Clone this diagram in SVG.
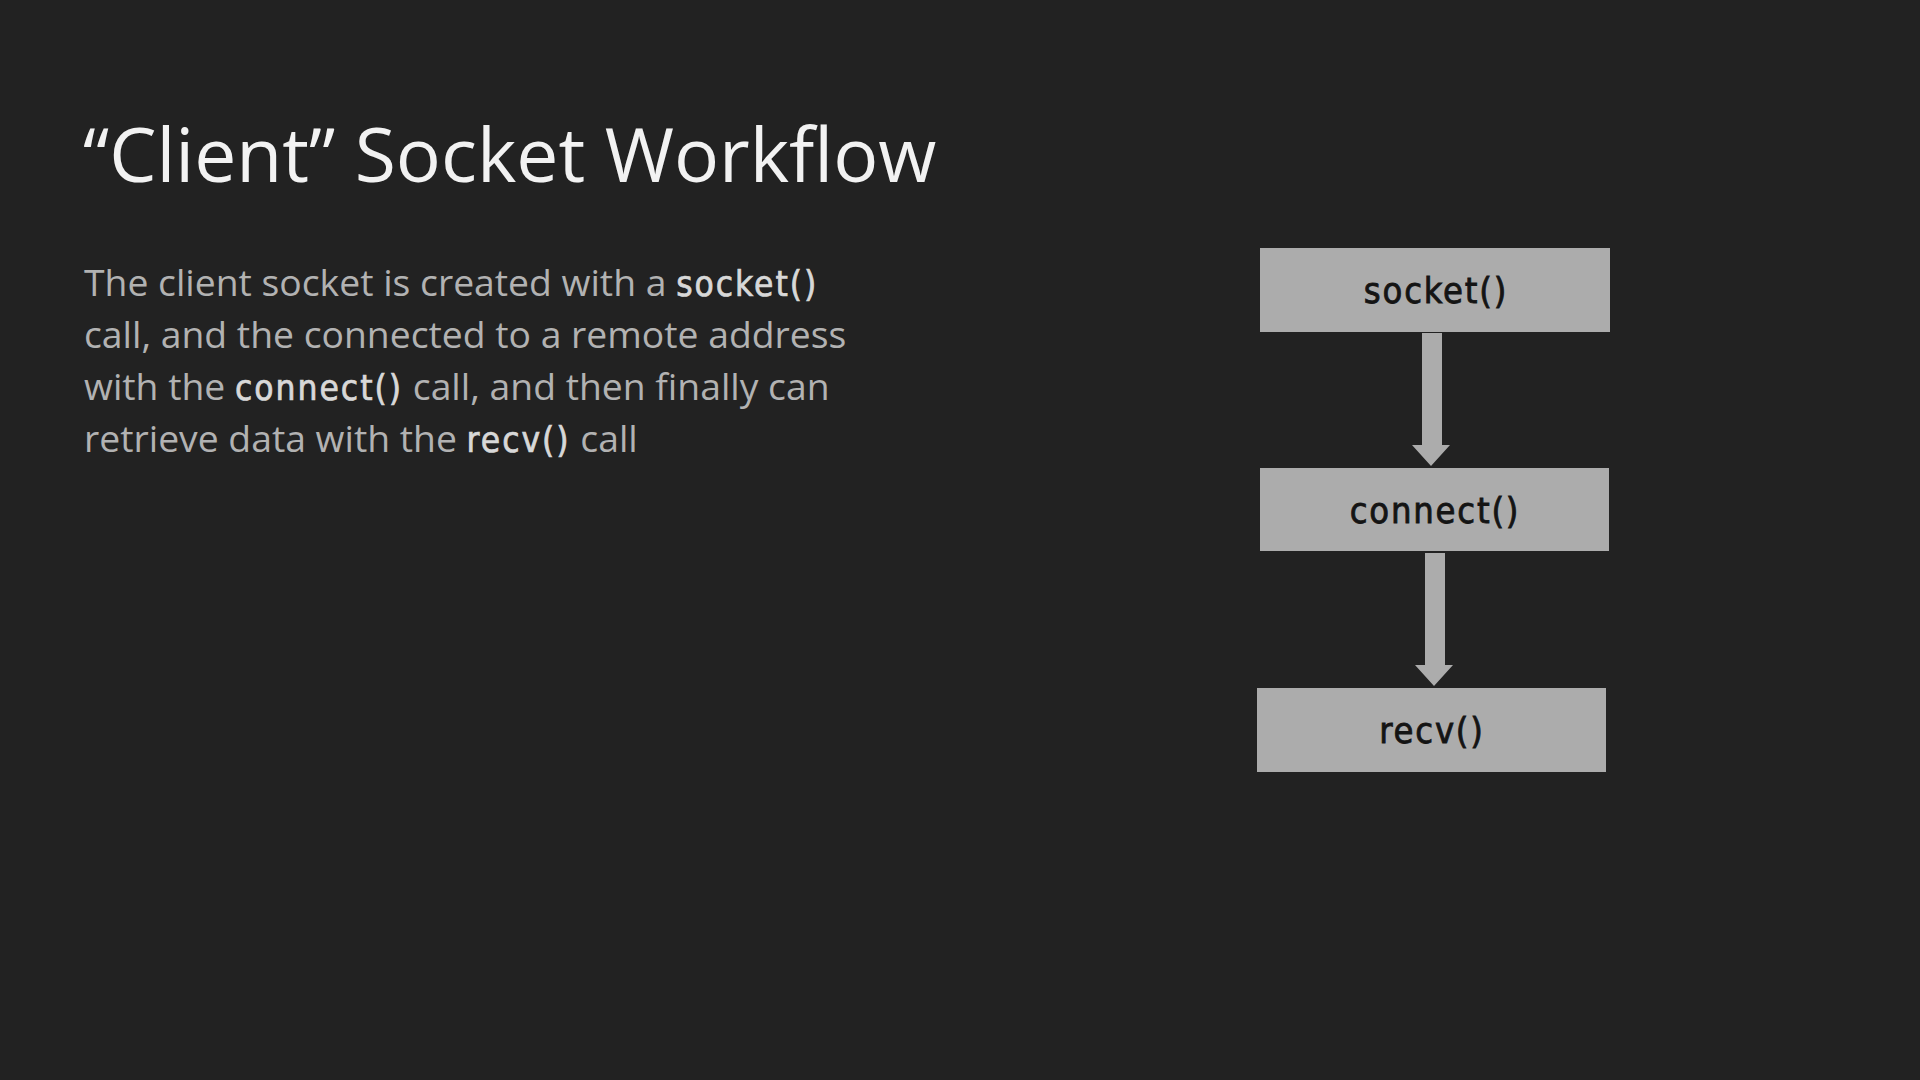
<svg xmlns="http://www.w3.org/2000/svg" width="1920" height="1080" viewBox="0 0 1920 1080">
<style>
.bg{fill:#222222}
.title{font-family:"Open Sans","Noto Sans",sans-serif;font-size:75px;fill:#f2f2f2}
.body{font-family:"Open Sans","Noto Sans",sans-serif;font-size:37.3px;fill:#b2b2b2}
.code{font-family:"DejaVu Sans Condensed","DejaVu Sans",sans-serif;font-size:35px;letter-spacing:2px;fill:#d8d8d8;stroke:#d8d8d8;stroke-width:0.7px}
.box{fill:#acacac}
.lbl{font-family:"DejaVu Sans Condensed","DejaVu Sans",sans-serif;font-size:36px;letter-spacing:1.8px;fill:#141414;stroke:#141414;stroke-width:0.8px;text-anchor:middle}
.arrow{fill:#acacac}
</style>
<rect class="bg" x="0" y="0" width="1920" height="1080"/>
<text class="title" x="83" y="182">“Client” Socket Workflow</text>
<g id="description">
<text class="body" x="84" y="296">The client socket is created with a <tspan class="code">socket()</tspan></text>
<text class="body" x="84" y="348">call, and the connected to a remote address</text>
<text class="body" x="84" y="400">with the <tspan class="code">connect()</tspan> call, and then finally can</text>
<text class="body" x="84" y="452">retrieve data with the <tspan class="code">recv()</tspan> call</text>
</g>
<g id="connectors">
<polygon class="arrow" points="1422,333 1442,333 1442,445 1450,445 1431,466 1412,445 1422,445"/>
<polygon class="arrow" points="1425,553 1445,553 1445,665 1453,665 1434,686 1415,665 1425,665"/>
</g>
<g id="node-socket">
<rect class="box" x="1260" y="248" width="350" height="84"/>
<text class="lbl" x="1436" y="303">socket()</text>
</g>
<g id="node-connect">
<rect class="box" x="1260" y="468" width="349" height="83"/>
<text class="lbl" x="1435" y="523">connect()</text>
</g>
<g id="node-recv">
<rect class="box" x="1257" y="688" width="349" height="84"/>
<text class="lbl" x="1432" y="743">recv()</text>
</g>
</svg>
